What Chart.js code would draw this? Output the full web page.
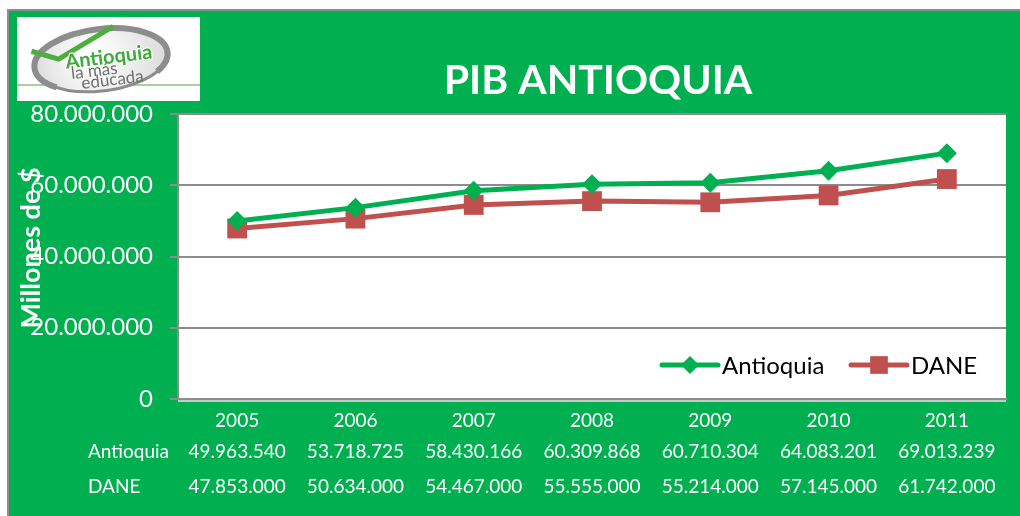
<!DOCTYPE html>
<html>
<head>
<meta charset="utf-8">
<script src="https://cdn.jsdelivr.net/npm/chart.js@4.4.1/dist/chart.umd.min.js"></script>
<style>
  html, body { margin: 0; padding: 0; background: #fff; }
  #wrap { width: 1020px; height: 516px; }
</style>
</head>
<body>
<div id="wrap"><canvas id="chart" width="1020" height="516"></canvas></div>
<script>
// data
const years = ['2005', '2006', '2007', '2008', '2009', '2010', '2011'];
const antioquia = [49963540, 53718725, 58430166, 60309868, 60710304, 64083201, 69013239];
const dane = [47853000, 50634000, 54467000, 55555000, 55214000, 57145000, 61742000];
const yTicks = [0, 20000000, 40000000, 60000000, 80000000];

const GREEN = '#00B050';
const RED = '#C0504D';
const FONT = 'Lato, "Open Sans", sans-serif';

function fmt(v) {
  return String(v).replace(/\B(?=(\d{3})+(?!\d))/g, '.');
}

function drawLogo(ctx) {
  ctx.save();
  ctx.fillStyle = '#fff';
  ctx.fillRect(17, 17, 183, 84);
  ctx.strokeStyle = '#a9cfa0';
  ctx.lineWidth = 2;
  ctx.beginPath(); ctx.moveTo(17, 85); ctx.lineTo(200, 85); ctx.stroke();
  ctx.translate(101, 60);
  ctx.rotate(-0.12);
  // shaded sticker
  const g = ctx.createRadialGradient(-10, -5, 10, 0, 0, 72);
  g.addColorStop(0, '#ffffff');
  g.addColorStop(1, '#d8d8d8');
  ctx.fillStyle = g;
  ctx.beginPath(); ctx.ellipse(0, 0, 67, 31, 0, 0, 2 * Math.PI); ctx.fill();
  ctx.strokeStyle = '#8d8d8d';
  ctx.lineWidth = 6;
  ctx.beginPath(); ctx.ellipse(0, 0, 67, 31, 0, 0.75 * Math.PI, 2.2 * Math.PI); ctx.stroke();
  ctx.lineWidth = 3;
  ctx.beginPath(); ctx.ellipse(0, 0, 67, 31, 0, 0.05 * Math.PI, 0.8 * Math.PI); ctx.stroke();
  // check mark
  ctx.strokeStyle = '#4cae3c';
  ctx.lineWidth = 5;
  ctx.lineJoin = 'round';
  ctx.beginPath(); ctx.moveTo(-68, -17); ctx.lineTo(-42, -6); ctx.lineTo(16, -32); ctx.stroke();
  // words
  ctx.textAlign = 'center';
  ctx.textBaseline = 'middle';
  ctx.font = 'bold 20px ' + FONT;
  ctx.lineWidth = 2;
  ctx.strokeStyle = '#fff';
  ctx.strokeText('Antioquia', 8, -2);
  ctx.fillStyle = '#3daa3a';
  ctx.fillText('Antioquia', 8, -2);
  ctx.fillStyle = '#6f6f6f';
  ctx.font = '17px ' + FONT;
  ctx.fillText('la más', -8, 10);
  ctx.fillText('educada', 9, 21);
  ctx.restore();
}

// background, frame, titles, data table and legend
const frame = {
  id: 'frame',
  beforeDraw(chart) {
    const ctx = chart.ctx;
    const a = chart.chartArea;
    ctx.save();
    ctx.fillStyle = '#fff';
    ctx.fillRect(0, 0, 1020, 516);
    ctx.fillStyle = GREEN;
    ctx.fillRect(8, 10, 1012, 506);
    ctx.strokeStyle = '#8c8c8c';
    ctx.lineWidth = 2;
    ctx.beginPath();
    ctx.moveTo(8, 516); ctx.lineTo(8, 10); ctx.lineTo(1020, 10);
    ctx.stroke();
    ctx.fillStyle = '#fff';
    ctx.fillRect(a.left, a.top, a.right - a.left, a.bottom - a.top);
    ctx.fillStyle = '#c8c8c8';
    ctx.fillRect(a.left, a.bottom + 1, a.right - a.left, 2);
    ctx.restore();
    drawLogo(ctx);
  },
  afterDraw(chart) {
    const ctx = chart.ctx;
    const x = chart.scales.x;
    ctx.save();
    ctx.fillStyle = '#fff';
    ctx.font = 'bold 41px ' + FONT;
    ctx.textAlign = 'center';
    ctx.textBaseline = 'middle';
    ctx.fillText('PIB ANTIOQUIA', 598, 81);

    ctx.save();
    ctx.translate(31, 248);
    ctx.rotate(-Math.PI / 2);
    ctx.font = 'bold 27px ' + FONT;
    ctx.fillText('Millones de $', 0, 0);
    ctx.restore();

    // data table
    ctx.font = '19px ' + FONT;
    ctx.textAlign = 'left';
    ctx.fillText('Antioquia', 88, 452);
    ctx.fillText('DANE', 88, 487);
    ctx.textAlign = 'center';
    years.forEach((y, i) => {
      const px = x.getPixelForValue(i);
      ctx.fillText(fmt(antioquia[i]), px, 452);
      ctx.fillText(fmt(dane[i]), px, 487);
    });

    // legend
    const ly = 365;
    const items = [
      { label: 'Antioquia', color: GREEN, style: 'rectRot', r: 9, x: 662 },
      { label: 'DANE', color: RED, style: 'rect', r: 12.5, x: 851 }
    ];
    ctx.textAlign = 'left';
    ctx.font = '24px ' + FONT;
    items.forEach(it => {
      ctx.strokeStyle = it.color;
      ctx.lineWidth = 5;
      ctx.lineCap = 'round';
      ctx.beginPath(); ctx.moveTo(it.x, ly); ctx.lineTo(it.x + 56, ly); ctx.stroke();
      ctx.fillStyle = it.color;
      Chart.helpers.drawPoint(ctx, { pointStyle: it.style, radius: it.r, borderWidth: 0 }, it.x + 28, ly);
      ctx.fillStyle = '#000';
      ctx.fillText(it.label, it.x + 60, ly + 1);
    });
    ctx.restore();
  }
};

new Chart(document.getElementById('chart'), {
  type: 'line',
  data: {
    labels: years,
    datasets: [{
      label: 'Antioquia',
      data: antioquia,
      borderColor: GREEN,
      backgroundColor: GREEN,
      borderWidth: 5,
      pointStyle: 'rectRot',
      pointRadius: 10,
      pointBorderWidth: 0
    }, {
      label: 'DANE',
      data: dane,
      borderColor: RED,
      backgroundColor: RED,
      borderWidth: 5,
      pointStyle: 'rect',
      pointRadius: 14,
      pointBorderWidth: 0
    }]
  },
  options: {
    responsive: false,
    animation: false,
    layout: { padding: { left: 0, right: 13, top: 114, bottom: 0 } },
    plugins: {
      legend: { display: false },
      tooltip: { enabled: false }
    },
    scales: {
      x: {
        offset: true,
        grid: { display: false },
        border: { display: true, color: '#8c8c8c', width: 2 },
        ticks: { color: '#fff', font: { family: FONT, size: 19 }, padding: 2 },
        afterFit(s) { s.height = 117; }
      },
      y: {
        min: 0,
        max: 80000000,
        afterBuildTicks(s) { s.ticks = yTicks.map(v => ({ value: v })); },
        grid: { color: '#8c8c8c', lineWidth: 2, tickLength: 8 },
        border: { display: true, color: '#8c8c8c', width: 2 },
        ticks: {
          color: '#fff',
          font: { family: FONT, size: 24 },
          padding: 17,
          callback: v => fmt(v)
        },
        afterFit(s) { s.width = 178; }
      }
    }
  },
  plugins: [frame]
});
</script>
</body>
</html>
